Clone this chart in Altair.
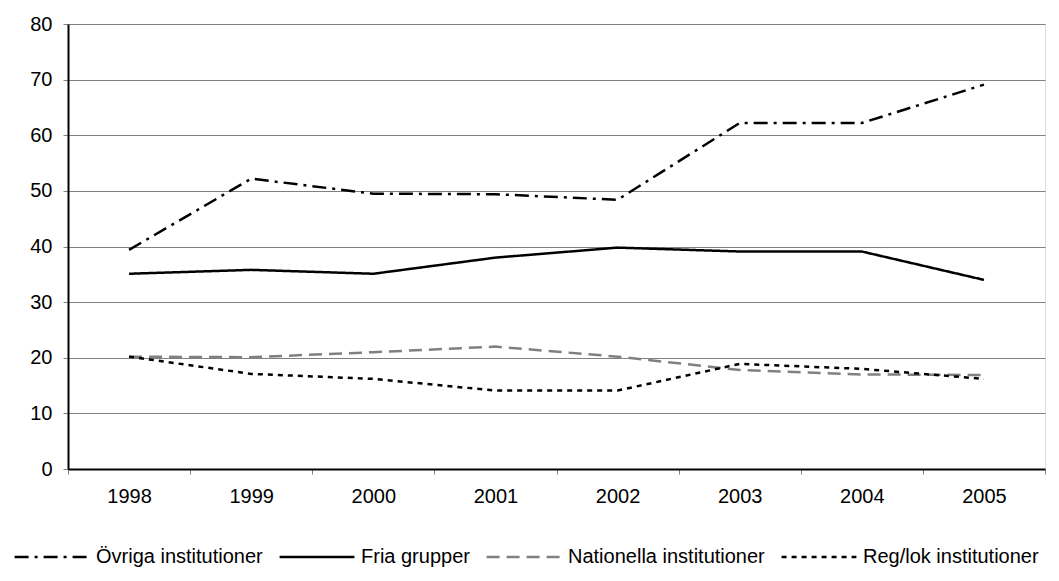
import altair as alt
import pandas as pd

years = ["1998", "1999", "2000", "2001", "2002", "2003", "2004", "2005"]
series = ["Övriga institutioner", "Fria grupper", "Nationella institutioner", "Reg/lok institutioner"]
ovriga = [39.4, 52.2, 49.5, 49.4, 48.4, 62.2, 62.2, 69.1]
fria = [35.1, 35.8, 35.1, 38.0, 39.8, 39.1, 39.1, 34.0]
nationella = [20.2, 20.1, 21.0, 22.0, 20.2, 17.8, 17.0, 16.9]
reglok = [20.2, 17.1, 16.2, 14.1, 14.1, 18.9, 18.0, 16.2]

colors = ["#000000", "#000000", "#808080", "#000000"]
dashes = [[14, 6, 3, 6], [1, 0], [13, 7], [5, 5]]

rows = []
for name, vals in zip(series, [ovriga, fria, nationella, reglok]):
    for y, v in zip(years, vals):
        rows.append({"year": y, "serie": name, "value": v})
df = pd.DataFrame(rows)

FONT = "Liberation Sans"

leg = alt.Legend(
    title=None,
    orient="none",
    legendX=-55,
    legendY=494,
    direction="horizontal",
    columns=4,
    symbolType="stroke",
    symbolSize=5600,
    symbolStrokeWidth=2.5,
    labelFontSize=20,
    labelFont=FONT,
    labelColor="#000000",
    labelOffset=5,
    columnPadding=11,
    labelLimit=400,
)

chart = alt.Chart(df).mark_line(strokeWidth=2.5).encode(
    x=alt.X(
        "year:O",
        bandPosition=0.5,
        scale=alt.Scale(type="band", domain=years, paddingInner=0, paddingOuter=0),
        axis=alt.Axis(
            title=None,
            tickBand="extent",
            grid=False,
            labelAngle=0,
            labelFontSize=20,
            labelFont=FONT,
            labelColor="#000000",
            labelPadding=12,
            tickSize=5,
            tickColor="#808080",
            domainColor="#000000",
            domainWidth=2,
        ),
    ),
    y=alt.Y(
        "value:Q",
        scale=alt.Scale(domain=[0, 80], nice=False),
        axis=alt.Axis(
            title=None,
            values=[0, 10, 20, 30, 40, 50, 60, 70, 80],
            grid=True,
            gridColor="#808080",
            gridWidth=1.2,
            labelFontSize=20,
            labelFont=FONT,
            labelColor="#000000",
            labelPadding=11,
            tickSize=5,
            tickColor="#808080",
            domainColor="#000000",
            domainWidth=2,
        ),
    ),
    color=alt.Color("serie:N", scale=alt.Scale(domain=series, range=colors), legend=leg, sort=series),
    strokeDash=alt.StrokeDash("serie:N", scale=alt.Scale(domain=series, range=dashes), legend=leg, sort=series),
).properties(
    width=977,
    height=445,
    autosize=alt.AutoSizeParams(type="none"),
    padding={"left": 60, "top": 16, "right": 6, "bottom": 104},
).configure_view(
    stroke="#000000",
    strokeWidth=1.5,
).configure(background="#ffffff")

chart.save("out.html", embed_options={"renderer": "svg", "actions": False})
